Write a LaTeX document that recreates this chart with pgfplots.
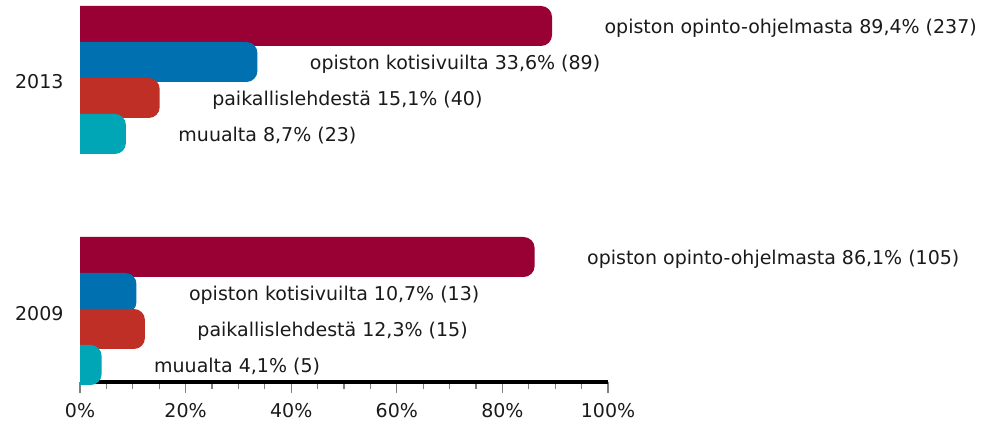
\documentclass[border=0pt]{standalone}
\usepackage{fontspec}
\setmainfont{DejaVu Sans}
\usepackage{pgfplots}
\pgfplotsset{compat=1.18}
\definecolor{cMaroon}{RGB}{153,0,51}
\definecolor{cBlue}{RGB}{0,112,176}
\definecolor{cRed}{RGB}{192,47,38}
\definecolor{cTeal}{RGB}{0,165,182}
\definecolor{txt}{RGB}{26,26,26}
\begin{document}
\begin{tikzpicture}[font=\fontsize{19}{23}\selectfont,
  lbl/.style={anchor=west, xshift=49pt, yshift=-2pt, text=txt}]
\useasboundingbox (-80pt,-43pt) rectangle (907pt,382pt);
\begin{axis}[
  scale only axis, width=528pt, height=382pt,
  xmin=0, xmax=100, ymin=0, ymax=382,
  clip=false,
  axis x line*=bottom, axis y line*=left,
  x axis line style={-, line width=4pt, black},
  y axis line style={draw=none},
  xtick={0,20,40,60,80,100},
  xticklabels={0\%,20\%,40\%,60\%,80\%,100\%},
  minor x tick num=3,
  xtick align=outside,
  major tick length=11pt, minor tick length=7pt,
  xtick style={gray, line width=1.2pt},
  ytick={68,300}, yticklabels={2009,2013},
  ytick style={draw=none},
  tick label style={font=\fontsize{19}{23}\selectfont, text=txt},
  xticklabel style={anchor=north, yshift=-7pt},
  yticklabel style={xshift=-13pt},
]
% 2013
\addplot[fill=cMaroon, draw=none, rounded corners=11pt] coordinates {(0,376) (89.4,376) (89.4,336) (0,336)};
\addplot[fill=cBlue,   draw=none, rounded corners=11pt] coordinates {(0,340) (33.6,340) (33.6,300) (0,300)};
\addplot[fill=cRed,    draw=none, rounded corners=11pt] coordinates {(0,304) (15.1,304) (15.1,264) (0,264)};
\addplot[fill=cTeal,   draw=none, rounded corners=11pt] coordinates {(0,268) (8.7,268) (8.7,228) (0,228)};
% 2009
\addplot[fill=cMaroon, draw=none, rounded corners=11pt] coordinates {(0,145) (86.1,145) (86.1,105) (0,105)};
\addplot[fill=cBlue,   draw=none, rounded corners=11pt] coordinates {(0,109) (10.7,109) (10.7,69) (0,69)};
\addplot[fill=cRed,    draw=none, rounded corners=11pt] coordinates {(0,73) (12.3,73) (12.3,33) (0,33)};
\addplot[fill=cTeal,   draw=none, rounded corners=11pt] coordinates {(0,37) (4.1,37) (4.1,-3) (0,-3)};
% labels
\node[lbl] at (axis cs:89.4,356) {opiston opinto-ohjelmasta 89,4\% (237)};
\node[lbl] at (axis cs:33.6,320) {opiston kotisivuilta 33,6\% (89)};
\node[lbl] at (axis cs:15.1,284) {paikallislehdestä 15,1\% (40)};
\node[lbl] at (axis cs:8.7,248) {muualta 8,7\% (23)};
\node[lbl] at (axis cs:86.1,125) {opiston opinto-ohjelmasta 86,1\% (105)};
\node[lbl] at (axis cs:10.7,89) {opiston kotisivuilta 10,7\% (13)};
\node[lbl] at (axis cs:12.3,53) {paikallislehdestä 12,3\% (15)};
\node[lbl] at (axis cs:4.1,17) {muualta 4,1\% (5)};
\end{axis}
\end{tikzpicture}
\end{document}
